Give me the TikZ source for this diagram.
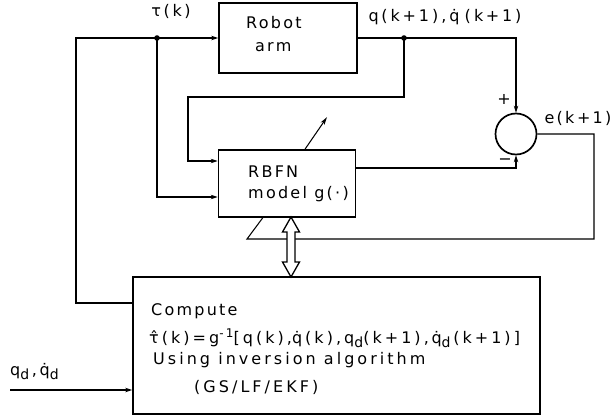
\documentclass[tikz,border=0pt]{standalone}
\usepackage{fontspec}
\setmainfont{DejaVu Sans}
\newfontfamily\lab{DejaVu Sans}[LetterSpace=14]
\newfontfamily\labw{DejaVu Sans}[LetterSpace=19]
\usetikzlibrary{arrows.meta,calc}
\newcommand\dq{\accent"02D9 q}
\newcommand\tauhat{\accent"02C6 τ}
\newcommand\sbd{\raisebox{-4.5pt}{\fontsize{14}{14}\selectfont d}}
\begin{document}
\begin{tikzpicture}[x=1pt,y=-1pt]
\tikzset{
 blk/.style={draw, line width=1.7pt, inner sep=0pt},
 wire/.style={line width=1.05pt},
 arr/.style={wire, -{Stealth[length=7pt,width=4.5pt]}},
 lbl/.style={font=\lab\fontsize{16}{16}\selectfont, inner sep=0pt},
 lblw/.style={font=\labw\fontsize{16}{16}\selectfont, inner sep=0pt},
}
\useasboundingbox (0,0) rectangle (616,420);
% blocks
\node[blk, minimum width=138pt, minimum height=70pt] (robot) at (288,38) {};
\node[lbl, anchor=base west] (robottxt) at (246,29) {Robot};
\node[lbl, anchor=base west] (armtxt) at (255,52) {arm};
\node[blk, minimum width=137pt, minimum height=67pt] (rbfn) at (287,183.5) {};
\node[lbl, anchor=base west] (rbfntxt) at (248,177) {RBFN};
\node[lbl, anchor=base west] (modeltxt) at (248,198) {model g(·)};
\node[blk, minimum width=407pt, minimum height=137pt] (comp) at (336.5,345.5) {};
\node[lbl, anchor=base west] (t1) at (151,315) {Compute};
\node[lblw, anchor=base west] (t2) at (149,343) {\tauhat(k)=g\raisebox{6pt}{\fontsize{12}{12}\selectfont -1}[q(k),\dq(k),q\sbd(k+1),\,\dq\sbd\,(k+1)]};
\node[lblw, anchor=base west] (t3) at (153,364) {Using inversion algorithm};
\node[lblw, anchor=base west] (t4) at (194,392) {(GS/LF/EKF)};
\node[draw, circle, line width=1.7pt, minimum size=41pt, inner sep=0pt] (sum) at (516,134) {};
% labels
\node[lbl, anchor=base] (tauk) at (171,17) {τ\,(\,k\,)};
\node[lblw, anchor=base] (qk) at (445,22) {q\,(k\,+1),\,\dq\,\,(k\,+\,1)};
\node[lbl] (plus) at (504,99) {+};
\node[lbl] (minus) at (505,162) {−};
\node[lbl] (ek) at (578,118) {e(k\,+1)};
\node[lblw, anchor=base west] (qd) at (10,375) {q\sbd\,,\,\dq\sbd};
% coordinates
\coordinate (tl) at (76,38);
\coordinate (j1) at (157,38);
\coordinate (j2) at (404,38);
\coordinate (yA) at (0,303);
\coordinate (yB) at (0,197);
\coordinate (yC) at (0,161);
\coordinate (yD) at (0,168);
\coordinate (c5) at (188,97);
\coordinate (fr) at (594,239);
\coordinate (sl) at (247,239);
\coordinate (qin) at (10,390);
% connectors
\draw[arr] (comp.west |- yA) -| (tl) -- (robot.west);
\draw[arr] (j1) |- (rbfn.west |- yB);
\draw[arr] (robot.east) -| (sum.north);
\draw[arr] (j2) |- (c5) |- (rbfn.west |- yC);
\draw[arr] (rbfn.east |- yD) -| (sum.south);
\draw[wire] (sum.east) -| (fr) -- (sl) -- ($(rbfn.south west)!0.325!(rbfn.south east)$);
\draw[wire, -{Stealth[length=8pt,width=4.5pt]}] ($(rbfn.north west)!0.63!(rbfn.north east)$) -- ++(22,-32);
\draw[arr] (qin) -- (comp.west |- qin);
\fill (j1) circle (2.8pt);
\fill (j2) circle (2.8pt);
% double arrow
\draw[line width=1.3pt, fill=white] (291,217) -- (299.5,232) -- (295,232) -- (295,262) -- (299.5,262) -- (291,277) -- (282.5,262) -- (287,262) -- (287,232) -- (282.5,232) -- cycle;
\end{tikzpicture}
\end{document}
